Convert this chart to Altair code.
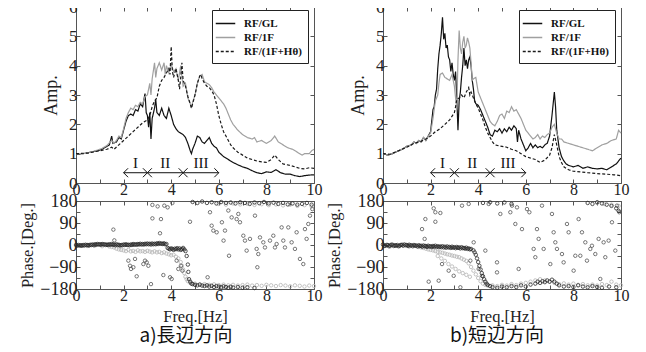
import altair as alt
import pandas as pd

SERIF = "Liberation Serif"
CJK = "Noto Sans CJK JP"
SERIES = ["RF/GL", "RF/1F", "RF/(1F+Hθ)"]

# ---------------- amplitude, left (a) ----------------
LA_GL_F = [0.0,0.3,0.6,0.9,1.1,1.3,1.4,1.5,1.55,1.7,1.8,1.9,2.0,2.1,2.2,2.3,2.4,2.5,2.6,2.7,2.8,2.9,2.95,3.0,3.05,3.1,3.15,3.2,3.3,3.35,3.4,3.5,3.6,3.7,3.8,3.9,4.0,4.1,4.2,4.3,4.4,4.5,4.6,4.7,4.8,4.85,4.9,5.0,5.1,5.2,5.3,5.4,5.5,5.6,5.7,5.8,5.9,6.0,6.2,6.4,6.6,6.8,7.0,7.2,7.4,7.6,7.8,8.0,8.2,8.4,8.6,8.8,9.0,9.2,9.4,9.6,9.8,10.0]
LA_GL_A = [1.00,1.00,1.05,1.10,1.15,1.25,1.30,1.60,1.35,1.40,1.55,1.50,1.80,2.10,2.30,2.35,2.30,2.50,2.45,2.70,2.60,3.05,2.40,2.30,1.90,2.40,1.50,2.20,2.55,2.85,2.40,2.30,2.55,2.30,2.20,2.55,2.30,2.00,1.85,1.75,1.70,1.65,1.55,1.35,1.10,1.00,1.15,1.35,1.60,1.55,1.40,1.35,1.45,1.55,1.35,1.25,1.20,1.05,0.90,0.80,0.70,0.62,0.55,0.50,0.42,0.35,0.32,0.38,0.36,0.45,0.35,0.30,0.30,0.25,0.22,0.25,0.27,0.28]
LA_1F_F = [0.0,0.3,0.6,0.9,1.1,1.3,1.5,1.6,1.7,1.8,1.9,2.0,2.1,2.2,2.3,2.4,2.5,2.6,2.7,2.8,2.9,3.0,3.1,3.15,3.2,3.3,3.35,3.4,3.5,3.6,3.7,3.75,3.8,3.9,4.0,4.1,4.2,4.3,4.4,4.5,4.6,4.7,4.8,4.85,4.9,5.0,5.1,5.2,5.3,5.4,5.5,5.6,5.7,5.8,5.9,6.0,6.1,6.2,6.3,6.4,6.5,6.6,6.7,6.8,7.0,7.2,7.4,7.5,7.6,7.8,8.0,8.2,8.35,8.5,8.7,8.9,9.1,9.3,9.5,9.6,9.8,9.9,10.0]
LA_1F_A = [1.00,1.00,1.05,1.12,1.18,1.28,1.45,1.35,1.45,1.60,1.55,1.85,2.20,2.40,2.55,2.50,2.65,2.60,2.75,2.70,2.95,3.00,3.40,3.00,3.55,4.10,3.60,3.90,4.10,3.85,4.10,3.70,4.00,3.75,4.05,3.80,3.90,3.50,4.00,3.30,3.40,2.90,2.70,2.55,2.75,3.00,3.40,3.65,3.70,3.45,3.40,3.35,3.25,3.10,3.00,2.90,2.80,2.70,2.55,2.35,2.15,2.00,1.90,1.80,1.65,1.55,1.50,1.55,1.40,1.45,1.35,1.45,1.60,1.40,1.30,1.20,1.15,1.05,0.95,1.00,1.00,1.10,1.15]
LA_HT_F = [0.0,0.5,1.0,1.3,1.5,1.6,1.8,2.0,2.2,2.4,2.6,2.8,3.0,3.1,3.2,3.3,3.4,3.5,3.6,3.7,3.8,3.9,3.95,4.0,4.05,4.1,4.2,4.3,4.35,4.4,4.45,4.5,4.6,4.7,4.8,4.85,4.9,5.0,5.1,5.2,5.25,5.3,5.4,5.5,5.6,5.7,5.8,5.9,6.0,6.1,6.2,6.3,6.4,6.5,6.6,6.8,7.0,7.2,7.4,7.6,7.8,8.0,8.2,8.35,8.5,8.7,9.0,9.2,9.4,9.6,9.8,10.0]
LA_HT_A = [1.00,1.02,1.10,1.15,1.22,1.15,1.30,1.45,1.60,1.75,1.90,2.05,2.15,2.30,2.60,2.80,2.90,3.30,3.50,3.60,3.75,3.90,3.70,4.65,3.80,3.60,3.90,3.50,3.20,3.60,4.10,3.50,3.30,2.95,2.70,2.55,2.70,3.00,3.40,3.65,3.70,3.55,3.40,3.30,3.25,3.15,3.00,2.70,2.30,2.00,1.75,1.60,1.45,1.30,1.20,1.05,0.95,0.85,0.80,0.75,0.72,0.70,0.80,0.95,0.80,0.65,0.60,0.55,0.50,0.48,0.52,0.50]

# ---------------- amplitude, right (b) ----------------
RA_GL_F = [0.0,0.2,0.4,0.6,0.8,1.0,1.2,1.3,1.4,1.5,1.6,1.7,1.8,1.9,2.0,2.1,2.15,2.2,2.25,2.3,2.35,2.4,2.45,2.5,2.55,2.6,2.65,2.7,2.75,2.8,2.85,2.9,2.95,3.0,3.05,3.1,3.15,3.2,3.25,3.3,3.35,3.4,3.45,3.5,3.55,3.6,3.65,3.7,3.75,3.8,3.85,3.9,4.0,4.1,4.2,4.3,4.4,4.5,4.6,4.7,4.8,4.9,5.0,5.1,5.2,5.3,5.4,5.5,5.6,5.65,5.7,5.8,5.9,6.0,6.1,6.2,6.3,6.4,6.5,6.6,6.7,6.8,6.9,7.0,7.1,7.2,7.25,7.3,7.4,7.5,7.6,7.7,7.8,8.0,8.2,8.4,8.6,8.8,9.0,9.2,9.4,9.6,9.8,10.0]
RA_GL_A = [1.00,0.95,1.00,1.08,1.15,1.25,1.30,1.40,1.35,1.45,1.40,1.55,1.45,1.60,1.75,2.50,2.60,3.00,3.20,3.90,4.40,4.70,5.10,5.65,4.90,5.10,4.60,4.70,4.30,4.20,3.80,4.10,3.70,3.50,3.80,2.90,1.80,2.80,3.10,3.60,4.00,4.60,4.00,4.20,3.90,4.20,4.30,4.00,3.50,3.20,2.80,2.70,2.65,2.50,2.30,2.10,1.90,1.65,1.60,1.80,1.75,1.85,1.70,1.85,1.75,1.90,1.80,1.95,1.85,1.40,1.80,1.50,1.30,1.10,1.20,1.35,1.20,1.30,1.20,1.25,1.20,1.30,1.35,1.60,2.30,3.10,2.60,1.80,1.20,0.90,0.75,0.65,0.60,0.55,0.60,0.50,0.55,0.50,0.48,0.50,0.45,0.55,0.65,0.85]
RA_1F_F = [0.0,0.2,0.4,0.6,0.8,1.0,1.2,1.3,1.4,1.5,1.6,1.7,1.8,1.9,2.0,2.1,2.2,2.3,2.35,2.4,2.5,2.6,2.7,2.8,2.9,3.0,3.1,3.15,3.2,3.25,3.3,3.35,3.4,3.45,3.5,3.55,3.6,3.65,3.7,3.75,3.8,3.9,4.0,4.1,4.2,4.3,4.4,4.5,4.6,4.7,4.8,4.9,5.0,5.1,5.2,5.3,5.4,5.5,5.6,5.7,5.8,5.9,6.0,6.1,6.2,6.3,6.4,6.5,6.6,6.7,6.8,6.9,7.0,7.1,7.2,7.3,7.4,7.5,7.6,7.8,8.0,8.2,8.4,8.6,8.8,9.0,9.2,9.4,9.6,9.8,9.9,10.0]
RA_1F_A = [1.00,0.95,1.00,1.08,1.15,1.25,1.30,1.40,1.35,1.45,1.40,1.55,1.45,1.60,1.70,2.20,2.80,3.00,3.40,3.70,3.75,3.60,3.55,3.50,3.70,3.30,2.50,4.20,5.20,4.60,4.40,4.80,5.00,4.60,4.70,4.95,4.80,4.60,4.10,3.50,3.55,3.60,3.10,2.90,2.70,2.50,2.30,2.10,2.00,1.95,2.10,2.30,2.35,2.20,2.45,2.40,2.60,2.45,2.50,2.35,2.20,2.00,1.80,1.70,1.60,1.50,1.55,1.65,1.50,1.60,1.55,1.65,1.70,1.90,2.00,1.70,1.50,1.50,1.40,1.35,1.30,1.25,1.20,1.15,1.10,1.20,1.30,1.35,1.45,1.50,1.80,1.70]
RA_HT_F = [0.0,0.3,0.6,1.0,1.3,1.6,1.8,2.0,2.2,2.4,2.6,2.8,3.0,3.05,3.1,3.2,3.3,3.4,3.5,3.6,3.65,3.7,3.8,3.9,4.0,4.1,4.2,4.3,4.4,4.5,4.6,4.7,4.8,5.0,5.2,5.4,5.6,5.8,6.0,6.2,6.4,6.6,6.8,7.0,7.1,7.2,7.3,7.4,7.5,7.6,7.8,8.0,8.3,8.6,9.0,9.4,9.7,10.0]
RA_HT_A = [1.00,0.98,1.08,1.22,1.35,1.42,1.50,1.60,1.75,1.85,2.00,2.15,2.40,2.60,2.85,2.90,3.00,2.90,3.10,3.25,3.00,3.10,2.90,2.70,2.55,2.35,2.15,1.90,1.70,1.55,1.40,1.30,1.28,1.25,1.22,1.15,1.10,1.00,0.90,0.85,0.80,0.70,0.78,0.95,1.20,1.65,1.30,0.90,0.70,0.55,0.45,0.40,0.38,0.35,0.32,0.30,0.28,0.25]

# ---------------- ranges I, II, III ----------------
RANGE_NAMES = ["I", "II", "III"]
RANGE_START = [2.0, 3.0, 4.5]
RANGE_END = [3.0, 4.5, 6.0]
ARROW_LEVEL = 0.35
LABEL_LEVEL = 0.68

# ---------------- phase, left (a) ----------------
LP_DARK_F = [0.0,0.05,0.1,0.15,0.2,0.25,0.3,0.35,0.4,0.45,0.5,0.55,0.6,0.65,0.7,0.75,0.8,0.85,0.9,0.95,1.0,1.05,1.1,1.15,1.2,1.25,1.3,1.35,1.4,1.45,1.5,1.55,1.6,1.65,1.7,1.75,1.8,1.85,1.9,1.95,2.0,2.05,2.1,2.15,2.2,2.25,2.3,2.35,2.4,2.45,2.5,2.55,2.6,2.65,2.7,2.75,2.8,2.85,2.9,2.95,3.0,3.05,3.1,3.15,3.2,3.25,3.3,3.35,3.4,3.45,3.5,3.55,3.6,3.65,3.7,3.75,3.8,
             3.85,3.9,3.95,4.0,4.05,4.1,4.15,4.2,4.25,4.3,4.35,4.4,4.45,4.5,4.55,4.6,4.65,4.7,4.72,4.75,4.8,4.85,
             4.9,5.0,5.1,5.2,5.3,5.4,5.5,5.6,5.7,5.8,5.9,6.0,6.1,6.2,6.3,6.4,6.5,6.6,6.8,7.0,7.2,7.5,
             4.9,5.1,5.3,5.5,5.7,5.9,6.1,6.3,6.5,6.7,6.9,7.1,7.3,7.5,7.7,7.9,8.1,8.3,8.5,8.7,8.9,9.1,9.3,9.5,9.7,9.9]
LP_DARK_P = [0,-3,0,-2,-1,-3,0,-2,1,-1,0,-2,1,0,2,-1,3,1,4,2,3,1,4,2,3,0,2,0,3,1,4,1,2,-1,3,0,1,-2,0,-1,2,0,3,0,1,-1,2,0,4,1,3,1,4,2,5,2,4,2,5,3,6,3,5,2,6,3,5,3,7,4,8,5,6,4,7,3,4,
             -12,-15,-18,-14,-16,-20,-15,-17,-13,-18,-14,-20,-17,-12,-18,-25,-45,-80,-110,-140,-150,-158,
             -160,-163,-165,-162,-166,-168,-165,-170,-167,-172,-168,-170,-173,-169,-172,-175,-171,-174,-172,-175,-173,-176,
             176,172,178,172,175,170,176,172,174,170,175,172,168,174,171,176,170,173,168,172,166,170,165,168,172,165]
LP_LIGHT_F = [0.2,0.5,0.8,1.1,1.4,1.5,1.6,1.7,1.8,1.9,2.0,2.1,2.2,2.3,2.4,2.5,2.6,2.7,2.8,2.9,3.0,3.1,3.2,3.3,3.4,3.5,3.6,3.7,3.8,3.9,4.0,4.1,4.2,4.3,4.4,4.45,4.5,4.55,4.6,4.65,4.7,4.8,
              5.0,5.2,5.4,5.6,5.8,6.0,6.2,6.4,6.6,6.8,7.0,7.2,7.4,7.6,7.8,8.0,8.2,8.4,8.6,8.8,9.0,9.2,9.4,9.6,9.8,10.0,
              6.0,6.3,6.6,6.9,7.2,7.5,7.8,8.1,8.4,8.7,9.0,9.3,9.6,9.9]
LP_LIGHT_P = [-3,-4,-2,-5,-6,-8,-10,-15,-18,-20,-22,-25,-20,-26,-24,-28,-22,-26,-25,-28,-24,-27,-30,-26,-30,-28,-33,-30,-35,-38,-42,-40,-48,-55,-70,-85,-100,-115,-130,-140,-148,-155,
              -158,-162,-160,-163,-161,-164,-162,-165,-163,-166,-164,-162,-166,-164,-167,-163,-165,-168,-164,-166,-169,-165,-167,-170,-166,-168,
              168,165,170,166,169,164,167,163,166,162,165,160,163,158]
LP_SCAT_F = [1.57,1.61,2.2,2.27,2.31,2.41,2.48,2.55,2.83,2.9,2.97,3.04,3.15,3.21,3.43,3.21,3.57,3.53,3.67,3.71,3.85,3.95,4.02,4.05,4.23,4.3,4.41,4.47,4.79,5.53,5.63,5.7,5.77,5.91,6.13,6.2,6.26,6.4,6.43,6.54,6.75,6.82,6.89,7.03,7.1,7.17,7.31,7.52,7.59,7.66,7.62,7.73,7.87,7.94,8.15,8.29,8.36,8.43,8.64,8.71,8.78,8.92,9.06,9.2,9.27,9.41,9.55,9.62,9.69,9.76,9.83,9.93]
LP_SCAT_P = [63,19,-64,-85,-98,-91,-57,-128,-78,-64,-71,-85,-160,164,158,109,106,48,-123,161,154,-132,-139,172,-64,-98,-85,-105,95,-132,134,79,59,52,93,18,59,141,-44,113,106,127,93,38,18,-23,25,120,-16,-37,-91,31,11,-10,18,38,-10,4,72,18,-10,72,11,-16,52,-57,-78,65,25,86,120,147]

# ---------------- phase, right (b) ----------------
RP_DARK_F = [0.0,0.05,0.1,0.15,0.2,0.25,0.3,0.35,0.4,0.45,0.5,0.55,0.6,0.65,0.7,0.75,0.8,0.85,0.9,0.95,1.0,1.05,1.1,1.15,1.2,1.25,1.3,1.35,1.4,1.45,1.5,1.55,1.6,1.65,1.7,1.75,1.8,1.85,1.9,1.95,2.0,2.05,2.1,2.15,2.2,2.25,2.3,2.35,2.4,2.45,2.5,2.55,2.6,2.65,2.7,2.75,2.8,2.85,2.9,2.95,3.0,3.05,3.1,3.15,3.2,3.25,3.3,3.35,3.4,3.45,3.5,3.55,3.6,3.65,3.7,
             3.8,3.85,3.9,3.95,4.0,4.05,4.1,4.15,4.2,4.25,4.3,4.35,4.4,4.5,
             4.6,4.8,5.0,5.2,5.4,5.6,5.8,6.0,6.2,6.4,6.5,6.6,6.7,6.8,6.9,7.0,7.1,7.2,7.3,7.4,7.6,7.8,8.0,8.2,8.4,8.6,8.8,9.0,9.2,9.5,9.8,
             4.2,4.5,4.8,5.1,5.4,8.6,8.8,9.0,9.2,9.4,9.6,9.8,9.9]
RP_DARK_P = [2,-4,-3,0,0,-5,-2,1,1,-4,-1,-3,0,-5,-2,0,1,-3,2,-1,0,-4,1,-2,-1,-5,0,-3,-2,-6,-1,-4,-3,-7,-2,-5,-4,-8,-3,-6,-5,-8,-4,-7,-3,-8,-5,-9,-6,-9,-5,-10,-7,-11,-6,-10,-8,-12,-7,-11,-9,-13,-8,-12,-10,-14,-9,-13,-12,-15,-11,-16,-14,-18,-16,
             -22,-30,-40,-55,-70,-85,-100,-115,-128,-140,-150,-158,-163,-168,
             -172,-175,-170,-173,-168,-172,-165,-170,-162,-158,-150,-155,-148,-152,-145,-150,-142,-150,-158,-165,-170,-168,-172,-165,-170,-173,-168,-172,-175,-170,-173,
             172,175,170,174,168,172,168,175,170,165,160,150,140]
RP_LIGHT_F = [0.3,0.7,1.1,1.5,1.6,1.7,1.8,1.9,2.0,2.1,2.2,2.3,2.4,2.5,2.6,2.7,2.8,2.9,3.0,3.1,3.2,3.3,3.4,3.5,3.6,3.7,3.8,3.9,4.0,4.1,4.2,4.3,4.4,
              4.6,4.8,5.0,5.2,5.4,5.6,5.8,6.0,6.2,6.4,6.6,6.8,7.0,7.2,7.4,7.6,7.8,8.0,8.2,8.4,8.6,8.8,9.0,9.2,9.4,9.6,9.8,10.0,
              2.3,2.45,2.6,2.75,2.9,3.05,3.2,3.35,3.5,3.65,
              9.0,9.3,9.6,9.9]
RP_LIGHT_P = [-6,-5,-7,-8,-10,-12,-15,-18,-20,-22,-25,-28,-30,-32,-35,-38,-40,-43,-45,-48,-50,-55,-60,-65,-75,-90,-105,-120,-135,-148,-158,-163,-166,
              -165,-168,-163,-166,-160,-164,-158,-155,-150,-145,-140,-145,-150,-155,-160,-157,-162,-158,-163,-160,-165,-162,-166,-160,-164,-150,-162,-165,
              -45,-55,-65,-78,-88,-98,-108,-115,-122,-130,
              172,168,165,160]
RP_SCAT_F = [1.64,1.78,1.75,2.2,2.13,2.2,2.41,1.92,2.34,2.48,2.76,2.97,3.25,3.32,3.6,3.67,3.81,4.02,4.16,4.3,4.44,4.79,4.79,4.93,5.35,5.42,5.56,5.63,5.7,5.84,6.05,6.15,6.33,6.4,6.47,6.54,6.68,6.75,7.03,7.1,7.17,7.24,7.31,7.52,7.59,7.73,7.8,8.01,8.08,8.22,8.29,8.36,8.5,8.57,8.71,8.78,8.92,9.06,9.13,9.27,9.34,9.48,9.62,9.76,9.83,9.93]
RP_SCAT_P = [65,106,25,95,150,134,131,-150,-146,-78,-105,-126,-173,161,168,-64,11,-98,-126,-23,168,-71,-112,127,134,161,86,154,-98,65,147,134,-16,-50,65,25,161,-16,-78,127,52,11,-16,-37,-71,86,52,-105,-44,106,-44,52,11,-64,-16,-3,-37,25,-139,11,-50,18,93,-23,161,134]


def amp_frame(gl_f, gl_a, f1_f, f1_a, ht_f, ht_a):
    rows = []
    for name, fs, vals in zip(SERIES, [gl_f, f1_f, ht_f], [gl_a, f1_a, ht_a]):
        for f, a in zip(fs, vals):
            rows.append({"f": f, "a": a, "s": name})
    return pd.DataFrame(rows)


def pts_frame(fs, ps):
    return pd.DataFrame({"f": fs, "p": ps})


def axis(orient, values, labels=True, label_expr=None, title=None, **kw):
    args = dict(orient=orient, values=values, domain=False, grid=False,
                tickSize=alt.ExprRef(expr="-4"), tickColor="#555", tickWidth=1,
                labels=labels, labelFont=SERIF, labelFontSize=16, labelColor="#222",
                labelOverlap=False, labelFlush=False, labelPadding=3,
                titleFont=SERIF, titleFontWeight="normal", titleColor="#222")
    if label_expr:
        args["labelExpr"] = label_expr
    args["title"] = title if title is not None else None
    args.update(kw)
    return alt.Axis(**args)


XVALS = list(range(0, 11))
EVEN = "datum.value % 2 == 0 ? datum.label : ''"
XS = alt.Scale(domain=[0, 10], nice=False)
YA = alt.Scale(domain=[0, 6], nice=False)
YP = alt.Scale(domain=[-180, 180], nice=False)
PVALS = [-180, -135, -90, -45, 0, 45, 90, 135, 180]
P90 = "datum.value % 90 == 0 ? datum.label : ''"

W, HT, HB = 238, 176, 88


def top_panel(df):
    lines = alt.Chart(df).mark_line(strokeWidth=1.2).encode(
        x=alt.X("f:Q", scale=XS, axis=axis("bottom", XVALS, label_expr=EVEN, labelPadding=2)),
        y=alt.Y("a:Q", scale=YA, axis=axis("left", list(range(0, 7)), title="Amp.",
                                          labelFontSize=17, titleFontSize=18, titlePadding=8)),
        color=alt.Color("s:N", scale=alt.Scale(domain=SERIES, range=["#111111", "#a0a0a0", "#1a1a1a"]),
                        legend=alt.Legend(title=None)),
        strokeDash=alt.StrokeDash("s:N", scale=alt.Scale(domain=SERIES, range=[[1, 0], [1, 0], [3, 2]]),
                                  legend=alt.Legend(title=None)),
    )
    rng = pd.DataFrame({"n": RANGE_NAMES, "x0": RANGE_START, "x1": RANGE_END,
                        "xm": [(a + b) / 2 for a, b in zip(RANGE_START, RANGE_END)],
                        "ya": [ARROW_LEVEL] * 3, "yl": [LABEL_LEVEL] * 3})
    seg = alt.Chart(rng).mark_rule(color="#111", strokeWidth=1).encode(
        x=alt.X("x0:Q", scale=XS, axis=axis("top", XVALS, labels=False)),
        x2="x1:Q",
        y=alt.Y("ya:Q", scale=YA, axis=axis("right", list(range(0, 7)), labels=False)),
    )
    left_head = alt.Chart(rng).mark_point(shape="M1,-1L0,0L1,1", size=80, filled=False,
                                          color="#111", strokeWidth=1, opacity=1).encode(
        x=alt.X("x0:Q", scale=XS, axis=None), y=alt.Y("ya:Q", scale=YA, axis=None))
    right_head = alt.Chart(rng).mark_point(shape="M-1,-1L0,0L-1,1", size=80, filled=False,
                                           color="#111", strokeWidth=1, opacity=1).encode(
        x=alt.X("x1:Q", scale=XS, axis=None), y=alt.Y("ya:Q", scale=YA, axis=None))
    labs = alt.Chart(rng).mark_text(font=SERIF, fontSize=15, color="#111", baseline="middle").encode(
        x=alt.X("xm:Q", scale=XS, axis=None), y=alt.Y("yl:Q", scale=YA, axis=None), text="n:N")
    return alt.layer(lines, seg, left_head, right_head, labs).resolve_axis(
        x="independent", y="independent").properties(width=W, height=HT)


def phase_panel(dark, light, scat, caption, dx):
    base_x = alt.X("f:Q", scale=XS, axis=axis("bottom", XVALS, label_expr=EVEN, labelPadding=2,
                                               title="Freq.[Hz]", titleFontSize=16.5, titlePadding=5))
    base_y = alt.Y("p:Q", scale=YP, axis=axis("left", PVALS, label_expr=P90, title="Phase.[Deg.]",
                                               labelFontSize=18, titleFontSize=16.5, titlePadding=4))
    lp = alt.Chart(light).mark_point(size=12, strokeWidth=0.8, color="#b4b4b4", opacity=1).encode(
        x=base_x, y=base_y)
    sp = alt.Chart(scat).mark_point(size=12, strokeWidth=0.8, color="#555", opacity=1).encode(
        x=alt.X("f:Q", scale=XS, axis=axis("top", XVALS, labels=False)),
        y=alt.Y("p:Q", scale=YP, axis=axis("right", PVALS, labels=False)))
    dp = alt.Chart(dark).mark_point(size=12, strokeWidth=0.8, color="#2a2a2a", opacity=1).encode(
        x=alt.X("f:Q", scale=XS, axis=None), y=alt.Y("p:Q", scale=YP, axis=None))
    return alt.layer(lp, sp, dp).resolve_axis(x="independent", y="independent").properties(
        width=W, height=HB,
        title=alt.TitleParams(caption, orient="bottom", font=CJK, fontSize=19, fontWeight="normal",
                              color="#111", offset=2, dx=dx))


chart = alt.concat(
    top_panel(amp_frame(LA_GL_F, LA_GL_A, LA_1F_F, LA_1F_A, LA_HT_F, LA_HT_A)),
    top_panel(amp_frame(RA_GL_F, RA_GL_A, RA_1F_F, RA_1F_A, RA_HT_F, RA_HT_A)),
    phase_panel(pts_frame(LP_DARK_F, LP_DARK_P), pts_frame(LP_LIGHT_F, LP_LIGHT_P),
                pts_frame(LP_SCAT_F, LP_SCAT_P), "a)長辺方向", -9),
    phase_panel(pts_frame(RP_DARK_F, RP_DARK_P), pts_frame(RP_LIGHT_F, RP_LIGHT_P),
                pts_frame(RP_SCAT_F, RP_SCAT_P), "b)短辺方向", -5),
    columns=2, spacing={"row": 18, "column": 69}, bounds="flush"
).resolve_scale(
    color="independent", strokeDash="independent"
).properties(
    padding={"left": 11, "top": -11, "right": 5, "bottom": 0}, background="white"
).configure_view(
    stroke="#555", strokeWidth=1
).configure_legend(
    orient="none", legendX=136, legendY=3, strokeColor="#222", fillColor="white", padding=6,
    labelFont=SERIF, labelFontSize=11, labelFontWeight="bold", labelColor="#111",
    symbolType="M-1.5,0L1.5,0", symbolSize=169, symbolStrokeWidth=1.5, labelOffset=11, rowPadding=1,
    cornerRadius=0
)

chart.save("out.html", embed_options={"renderer": "svg", "actions": False})
